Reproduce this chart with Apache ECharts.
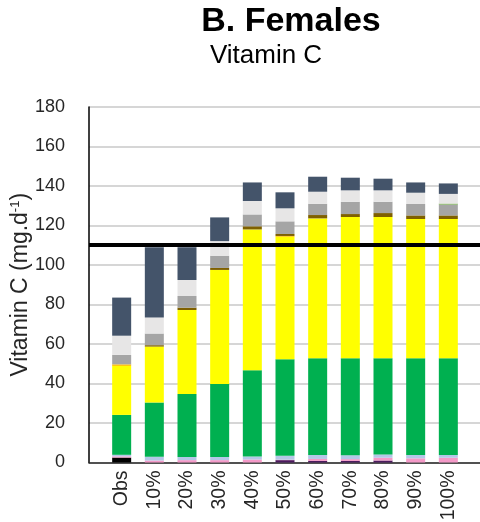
<!DOCTYPE html>
<html>
<head>
<meta charset="utf-8">
<title>B. Females – Vitamin C</title>
<script src="https://cdn.jsdelivr.net/npm/echarts@6/dist/echarts.min.js"></script>
<style>
  html, body { margin: 0; padding: 0; background: #ffffff; }
  #chart { width: 480px; height: 522px; }
</style>
</head>
<body>
<div id="chart"></div>
<script>
// Scenario categories (blank slots pad the axis on both sides)
const categories = ['', 'Obs', '10%', '20%', '30%', '40%', '50%', '60%', '70%', '80%', '90%', '100%', ''];

// Stacked contributions (mg/d), bottom to top, one value per category
const blackPart  = ['-', 2.5, 0,    0,    0,    0,    0,    0,    0,    0,    0,    0,    '-'];
const purplePart = ['-', 0,   0,    0,    0,    0,    1.2,  0.8,  0.8,  1.0,  0,    0,    '-'];
const pinkPart   = ['-', 0.6, 1.0,  1.2,  1.2,  1.5,  0.2,  1.0,  0.9,  1.4,  2.1,  2.4,  '-'];
const bluePart   = ['-', 0.8, 1.9,  1.6,  1.6,  1.5,  2.0,  2.0,  2.0,  1.7,  1.7,  1.4,  '-'];
const greenPart  = ['-', 20.2, 27.5, 31.9, 37.0, 43.7, 48.9, 49.0, 49.1, 48.7, 49.0, 49.0, '-'];
const yellowPart = ['-', 24.8, 28.3, 42.5, 57.7, 71.3, 62.0, 70.8, 71.5, 71.5, 70.5, 70.5, '-'];
const orangePart = ['-', 0.8, 0,    0,    0,    0,    0.4,  0,    0,    0,    0,    0,    '-'];
const brownPart  = ['-', 0,   0.7,  1.2,  1.0,  1.6,  1.0,  1.7,  1.5,  2.0,  1.8,  1.8,  '-'];
const greyPart   = ['-', 4.8, 5.9,  5.9,  6.2,  6.0,  6.4,  5.7,  6.2,  5.7,  5.8,  5.5,  '-'];
const olivePart  = ['-', 0,   0,    0,    0,    0,    0,    0,    0,    0,    0,    0.5,  '-'];
const silverPart = ['-', 9.7, 8.1,  8.1,  7.4,  6.8,  6.6,  6.1,  5.8,  5.8,  5.7,  4.9,  '-'];
const slatePart  = ['-', 19.3, 35.6, 16.6, 12.0, 9.4, 8.1,  7.6,  6.4,  5.9,  5.2,  5.3,  '-'];

// Reference intake line (mg/d)
const referenceIntake = 110;

// Y axis ticks
const yMin = 0, yMax = 180, yStep = 20;

const layers = [
  { name: 'black',  data: blackPart,  color: '#000000' },
  { name: 'purple', data: purplePart, color: '#4b1b5e' },
  { name: 'pink',   data: pinkPart,   color: '#f49ac8' },
  { name: 'blue',   data: bluePart,   color: '#b4c7e7' },
  { name: 'green',  data: greenPart,  color: '#00b050' },
  { name: 'yellow', data: yellowPart, color: '#ffff00' },
  { name: 'orange', data: orangePart, color: '#ffc000' },
  { name: 'brown',  data: brownPart,  color: '#7f6000' },
  { name: 'grey',   data: greyPart,   color: '#a5a5a5' },
  { name: 'olive',  data: olivePart,  color: '#70ad47' },
  { name: 'silver', data: silverPart, color: '#e7e6e6' },
  { name: 'slate',  data: slatePart,  color: '#44546a' }
];

const FONT = '"Liberation Sans", Arial, sans-serif';

const series = layers.map((l, i) => {
  const s = {
    name: l.name,
    type: 'bar',
    stack: 'total',
    barWidth: 19,
    data: l.data,
    itemStyle: { color: l.color },
    silent: true,
    animation: false
  };
  if (i === layers.length - 1) {
    s.markLine = {
      silent: true,
      symbol: ['none', 'none'],
      label: { show: false },
      lineStyle: { color: '#000000', width: 4, type: 'solid' },
      data: [{ yAxis: referenceIntake }],
      animation: false
    };
  }
  return s;
});

const chart = echarts.init(document.getElementById('chart'), null, { renderer: 'canvas' });
chart.setOption({
  animation: false,
  backgroundColor: '#ffffff',
  title: [
    {
      text: 'B. Females',
      left: 286, top: 0, textAlign: 'center',
      textStyle: { fontFamily: FONT, fontSize: 34, fontWeight: 'bold', color: '#000000' }
    },
    {
      text: 'Vitamin C',
      left: 261, top: 38, textAlign: 'center',
      textStyle: { fontFamily: FONT, fontSize: 26, fontWeight: 'normal', color: '#000000' }
    }
  ],
  grid: { left: 89, top: 107, width: 392, bottom: 59.5, containLabel: false, outerBoundsMode: 'none' },
  xAxis: {
    type: 'category',
    data: categories,
    boundaryGap: false,
    axisLine: { show: true, lineStyle: { color: '#262626', width: 1.5 } },
    axisTick: { show: false },
    axisLabel: {
      rotate: 90, margin: 8, interval: 0,
      fontFamily: FONT, fontSize: 19.5, color: '#262626'
    },
    splitLine: { show: false }
  },
  yAxis: {
    type: 'value',
    min: yMin, max: yMax, interval: yStep,
    name: 'Vitamin C (mg.d{sup|-1})',
    nameLocation: 'middle',
    nameGap: 57,
    nameMoveOverlap: false,
    nameTextStyle: {
      fontFamily: FONT, fontSize: 23, color: '#262626',
      rich: { sup: { fontFamily: FONT, fontSize: 13, color: '#262626', padding: [0, 0, 10, 0] } }
    },
    axisLine: { show: true, lineStyle: { color: '#000000', width: 1.5 } },
    axisTick: { show: false },
    axisLabel: { margin: 24, fontFamily: FONT, fontSize: 18, color: '#262626' },
    splitLine: { show: true, lineStyle: { color: '#c8c8c8', width: 1.5 } }
  },
  series: series
});
</script>
</body>
</html>
